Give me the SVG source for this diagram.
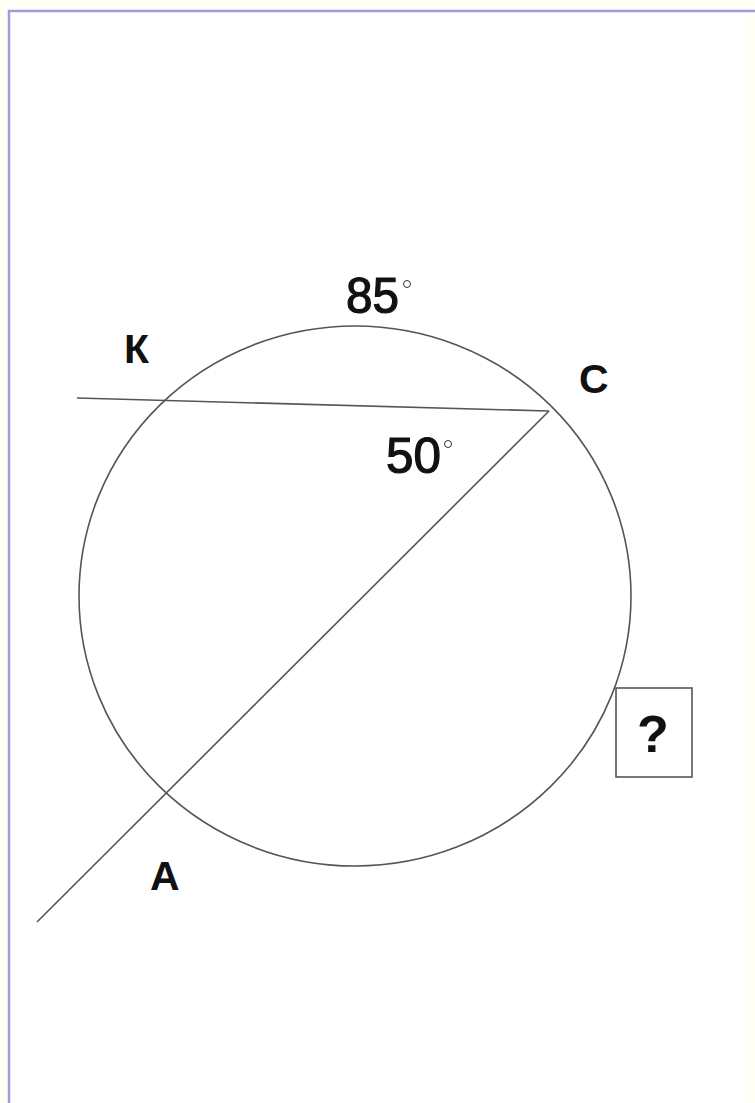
<svg xmlns="http://www.w3.org/2000/svg" width="755" height="1103" viewBox="0 0 755 1103">
<style>
.ln{stroke:#555;stroke-width:1.6;fill:none}
.lbl{font-family:"Liberation Sans",Arial,sans-serif;font-weight:bold;fill:#111}
.num{font-family:"Liberation Sans",Arial,sans-serif;font-weight:normal;fill:#111;stroke:#111;stroke-width:1.2}
</style>
<rect x="0" y="0" width="755" height="1103" fill="#fffff6"/>
<rect x="9" y="11" width="738" height="1092" fill="#ffffff"/>
<path d="M9,1103 V11 H755" stroke="#9d9ddb" stroke-width="2.5" fill="none"/>
<g id="circle"><ellipse class="ln" cx="355" cy="596" rx="276" ry="270"/></g>
<g id="connectors">
<line class="ln" x1="77" y1="398" x2="549" y2="411"/>
<line class="ln" x1="549" y1="411" x2="37" y2="922"/>
</g>
<g id="label-85"><text class="num" x="346" y="313" font-size="50" textLength="53" lengthAdjust="spacingAndGlyphs">85</text><circle cx="407" cy="284" r="3.5" fill="none" stroke="#333" stroke-width="1"/></g>
<g id="label-50"><text class="num" x="386" y="473" font-size="50" textLength="55" lengthAdjust="spacingAndGlyphs">50</text><circle cx="448" cy="444" r="3.5" fill="none" stroke="#333" stroke-width="1"/></g>
<g id="label-K"><text class="lbl" x="124" y="363" font-size="41">К</text></g>
<g id="label-C"><text class="lbl" x="579" y="393" font-size="41">С</text></g>
<g id="label-A"><text class="lbl" x="150" y="890" font-size="41">А</text></g>
<g id="question"><rect x="616" y="688" width="76" height="89" fill="#fff" stroke="#555" stroke-width="1.6"/><text class="lbl" x="653" y="752" font-size="52" text-anchor="middle">?</text></g>
</svg>
